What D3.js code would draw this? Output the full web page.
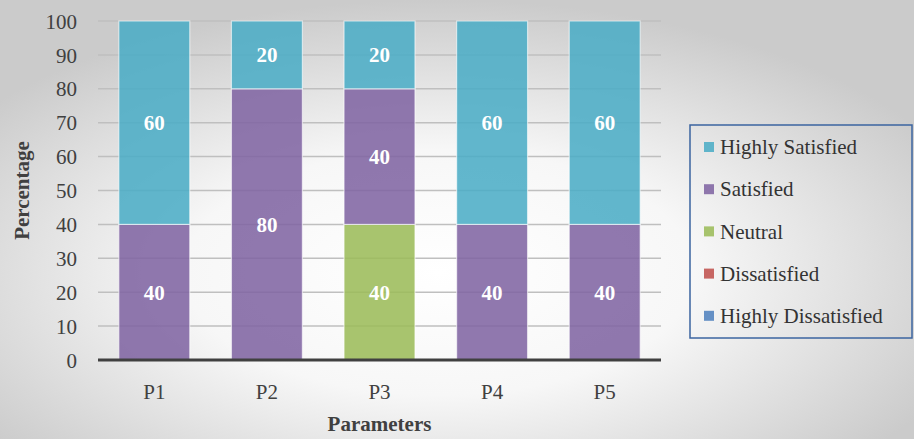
<!DOCTYPE html>
<html><head><meta charset="utf-8">
<script src="https://cdn.jsdelivr.net/npm/d3@7/dist/d3.min.js"></script>
<style>html,body{margin:0;padding:0;overflow:hidden;}
svg, svg text { font-family: "Liberation Serif", serif !important; }
</style>
</head><body>
<div id="chart"></div>
<script>
const categories = ["P1","P2","P3","P4","P5"];
const seriesNames = ["Highly Dissatisfied","Dissatisfied","Neutral","Satisfied","Highly Satisfied"];
const highlyDissatisfied = [0,0,0,0,0];
const dissatisfied = [0,0,0,0,0];
const neutral = [0,0,40,0,0];
const satisfied = [40,80,40,40,40];
const highlySatisfied = [60,20,20,60,60];
const yTicks = [0,10,20,30,40,50,60,70,80,90,100];
const legendOrder = ["Highly Satisfied","Satisfied","Neutral","Dissatisfied","Highly Dissatisfied"];
const colors = {"Highly Satisfied":"#4bacc6","Satisfied":"#8064a2","Neutral":"#9bbb59","Dissatisfied":"#c0504d","Highly Dissatisfied":"#4f81bd"};

(function(){
const seriesValues = [highlyDissatisfied, dissatisfied, neutral, satisfied, highlySatisfied];
const table = categories.map((c,i)=>{const o={cat:c}; seriesNames.forEach((s,j)=>o[s]=seriesValues[j][i]); return o;});

const W=914,H=439;
const svg=d3.select("#chart").append("svg").attr("width",W).attr("height",H).attr("font-family","Liberation Serif");
const defs=svg.append("defs");
const grad=defs.append("radialGradient").attr("id","bg").attr("cx","48%").attr("cy","62%").attr("r","62%");
grad.append("stop").attr("offset","0%").attr("stop-color","#ffffff");
grad.append("stop").attr("offset","45%").attr("stop-color","#f7f7f7");
grad.append("stop").attr("offset","100%").attr("stop-color","#cbcbcb");
svg.append("rect").attr("width",W).attr("height",H).attr("fill","url(#bg)");

const pl=98,pr=661,pt=21,pb=360;
const x=d3.scaleBand().domain(categories).range([pl,pr]).paddingInner(0.37).paddingOuter(0.185);
const y=d3.scaleLinear().domain([0,100]).range([pb,pt]);

svg.append("g").selectAll("line").data(yTicks.filter(t=>t>0)).join("line")
  .attr("x1",pl).attr("x2",pr).attr("y1",d=>y(d)).attr("y2",d=>y(d))
  .attr("stroke","#bfbfbf").attr("stroke-width",1.5);

const yAxis=d3.axisLeft(y).tickValues(yTicks).tickSize(0).tickPadding(0);
const gy=svg.append("g").attr("transform",`translate(${pl-21},0)`).call(yAxis);
gy.attr("font-family",null).attr("font-size",null);
gy.select(".domain").remove();
gy.selectAll("text").attr("font-size",21).attr("fill","#404040").attr("dy","0.34em");

const stack=d3.stack().keys(seriesNames)(table);
const gb=svg.append("g");
stack.forEach(layer=>{
  const name=layer.key;
  const segs=layer.filter(d=>d[1]-d[0]>0);
  gb.selectAll(null).data(segs).join("rect")
    .attr("x",d=>x(d.data.cat)).attr("width",x.bandwidth())
    .attr("y",d=>y(d[1])).attr("height",d=>y(d[0])-y(d[1]))
    .attr("fill",colors[name]).attr("fill-opacity",0.87)
    .attr("stroke","#ffffff").attr("stroke-opacity",0.6).attr("stroke-width",1.2);
  gb.selectAll(null).data(segs).join("text")
    .attr("x",d=>x(d.data.cat)+x.bandwidth()/2).attr("y",d=>y((d[0]+d[1])/2))
    .attr("dy","0.35em").attr("text-anchor","middle")
    .attr("font-weight","bold").attr("font-size",21)
    .attr("fill","#ffffff").text(d=>d[1]-d[0]);
});

svg.append("line").attr("x1",pl).attr("x2",pr).attr("y1",y(0)).attr("y2",y(0))
  .attr("stroke","#404040").attr("stroke-width",3);

const xAxis=d3.axisBottom(x).tickSize(0).tickPadding(0);
const gx=svg.append("g").attr("transform",`translate(0,${pb+39})`).call(xAxis);
gx.attr("font-family",null).attr("font-size",null);
gx.select(".domain").remove();
gx.selectAll("text").attr("font-size",21).attr("fill","#404040").attr("dy","0");

svg.append("text").attr("x",(pl+pr)/2).attr("y",431).attr("text-anchor","middle")
  .attr("font-weight","bold").attr("font-size",21).attr("fill","#404040").text("Parameters");
svg.append("text").attr("transform",`translate(29,${(pt+pb)/2}) rotate(-90)`).attr("text-anchor","middle")
  .attr("font-weight","bold").attr("font-size",21).attr("fill","#404040").text("Percentage");

const lg=svg.append("g");
lg.append("rect").attr("x",690).attr("y",125).attr("width",222).attr("height",213)
  .attr("fill","none").attr("stroke","#3b64a0").attr("stroke-width",1.5);
legendOrder.forEach((name,i)=>{
  const cy=147+i*42.2;
  lg.append("rect").attr("x",704).attr("y",cy-5).attr("width",10).attr("height",10).attr("fill",colors[name]).attr("fill-opacity",0.87);
  lg.append("text").attr("x",720).attr("y",cy).attr("dy","0.34em")
    .attr("font-size",21).attr("fill","#333").text(name);
});
})();
</script>
</body></html>
